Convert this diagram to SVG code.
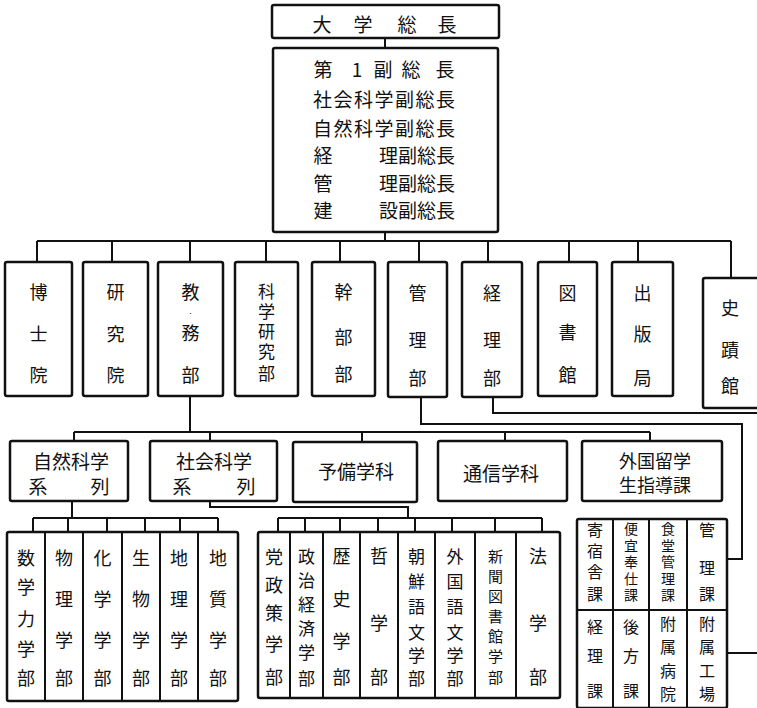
<svg xmlns="http://www.w3.org/2000/svg" width="757" height="708" viewBox="0 0 757 708">
<style>
.box{fill:#fff;stroke:#111;stroke-width:2.5}
.ln{fill:none;stroke:#111;stroke-width:2}
.div{fill:none;stroke:#111;stroke-width:2}
text{font-family:"Noto Sans CJK JP","Noto Sans CJK SC",sans-serif;fill:#111;text-anchor:middle;dominant-baseline:central}
.t18{font-size:18px}
.t19{font-size:19px}
.t17{font-size:17px}
.t16{font-size:16px}
.t15{font-size:15px}
.t14{font-size:14px}
</style>
<rect width="757" height="708" fill="#fff"/>
<g id="connectors">
<path class="ln" d="M385,38V48M385,232V241M37,241H731"/>
<path class="ln" d="M37,241V262M112,241V262M190,241V262M266,241V262M340,241V262M419,241V262M488,241V262M569,241V262M638,241V262M731,241V278"/>
<path class="ln" d="M190,396V432M74,432H650M74,432V441M210,432V441M362,432V442M505,432V441M650,432V441"/>
<path class="ln" d="M421,397V424H742V559H727"/>
<path class="ln" d="M493,397V413H757"/>
<path class="ln" d="M727,653H757"/>
<path class="ln" d="M72,501V518M33,518H218M33,518V532M68,518V532M107,518V532M145,518V532M180,518V532M218,518V532"/>
<path class="ln" d="M210,501V507H408V518M278,518H542M278,518V532M305,518V532M340,518V532M378,518V532M415,518V532M452,518V532M495,518V532M542,518V532"/>
</g>
<g id="president">
<rect class="box" x="272" y="5" width="227" height="33" rx="2"/>
<text class="t19" y="23"><tspan x="322">大</tspan><tspan x="363">学</tspan><tspan x="407">総</tspan><tspan x="447">長</tspan></text>
</g>
<g id="vice-presidents">
<rect class="box" x="273" y="48" width="225" height="184" rx="2"/>
<text class="t19" y="68"><tspan x="323">第</tspan><tspan x="357">1</tspan><tspan x="383">副</tspan><tspan x="411">総</tspan><tspan x="445">長</tspan></text>
<text class="t19" x="384" y="98" textLength="142" lengthAdjust="spacing">社会科学副総長</text>
<text class="t19" x="384" y="127" textLength="142" lengthAdjust="spacing">自然科学副総長</text>
<text class="t19" y="154"><tspan x="323">経</tspan><tspan x="417">理副総長</tspan></text>
<text class="t19" y="182"><tspan x="323">管</tspan><tspan x="417">理副総長</tspan></text>
<text class="t19" y="209"><tspan x="323">建</tspan><tspan x="417">設副総長</tspan></text>
</g>
<g id="hakushiin">
<rect class="box" x="5" y="262" width="67" height="134" rx="2"/>
<text class="t18"><tspan x="38.5" y="291">博</tspan><tspan x="38.5" y="333">士</tspan><tspan x="38.5" y="374">院</tspan></text>
</g>
<g id="kenkyuin">
<rect class="box" x="83" y="262" width="65" height="134" rx="2"/>
<text class="t18"><tspan x="115.5" y="291">研</tspan><tspan x="115.5" y="333">究</tspan><tspan x="115.5" y="374">院</tspan></text>
</g>
<g id="kyomubu">
<rect class="box" x="158" y="262" width="65" height="134" rx="2"/>
<text class="t18"><tspan x="190.5" y="291">教</tspan><tspan x="190.5" y="332">務</tspan><tspan x="190.5" y="374">部</tspan></text>
<text x="190.5" y="312" font-size="8">·</text>
</g>
<g id="kagakukenkyubu">
<rect class="box" x="235" y="262" width="63" height="134" rx="2"/>
<text class="t17"><tspan x="266.5" y="290">科</tspan><tspan x="266.5" y="310">学</tspan><tspan x="266.5" y="330">研</tspan><tspan x="266.5" y="350">究</tspan><tspan x="266.5" y="372">部</tspan></text>
</g>
<g id="kanbubu">
<rect class="box" x="312" y="262" width="63" height="134" rx="2"/>
<text class="t18"><tspan x="343.5" y="291">幹</tspan><tspan x="343.5" y="336">部</tspan><tspan x="343.5" y="373">部</tspan></text>
</g>
<g id="kanribu">
<rect class="box" x="388" y="262" width="59" height="135" rx="2"/>
<text class="t18"><tspan x="417.5" y="292">管</tspan><tspan x="417.5" y="339">理</tspan><tspan x="417.5" y="377">部</tspan></text>
</g>
<g id="keiribu">
<rect class="box" x="462" y="262" width="60" height="135" rx="2"/>
<text class="t18"><tspan x="492" y="292">経</tspan><tspan x="492" y="339">理</tspan><tspan x="492" y="377">部</tspan></text>
</g>
<g id="toshokan">
<rect class="box" x="538" y="262" width="59" height="134" rx="2"/>
<text class="t18"><tspan x="567.5" y="292">図</tspan><tspan x="567.5" y="331">書</tspan><tspan x="567.5" y="374">館</tspan></text>
</g>
<g id="shuppankyoku">
<rect class="box" x="612" y="262" width="61" height="134" rx="2"/>
<text class="t18"><tspan x="642.5" y="292">出</tspan><tspan x="642.5" y="333">版</tspan><tspan x="642.5" y="377">局</tspan></text>
</g>
<g id="shisekikan">
<rect class="box" x="703" y="278" width="70" height="130" rx="2"/>
<text class="t18"><tspan x="730" y="307">史</tspan><tspan x="730" y="349">蹟</tspan><tspan x="730" y="385">館</tspan></text>
</g>
<g id="shizen-keiretsu">
<rect class="box" x="10" y="441" width="118" height="60" rx="2"/>
<text class="t19" x="71" y="460">自然科学</text>
<text class="t19" y="485"><tspan x="38">系</tspan><tspan x="100">列</tspan></text>
</g>
<g id="shakai-keiretsu">
<rect class="box" x="150" y="441" width="127" height="60" rx="2"/>
<text class="t19" x="214" y="460">社会科学</text>
<text class="t19" y="485"><tspan x="182">系</tspan><tspan x="246">列</tspan></text>
</g>
<g id="yobigakka">
<rect class="box" x="293" y="442" width="124" height="60" rx="2"/>
<text class="t19" x="356" y="470">予備学科</text>
</g>
<g id="tsushingakka">
<rect class="box" x="438" y="441" width="129" height="60" rx="2"/>
<text class="t19" x="501" y="472">通信学科</text>
</g>
<g id="ryugakusei">
<rect class="box" x="582" y="441" width="140" height="60" rx="2"/>
<text class="t18" x="655" y="460">外国留学</text>
<text class="t18" x="655" y="484">生指導課</text>
</g>
<g id="shizen-gakubu">
<rect class="box" x="7" y="532" width="231" height="169" rx="2"/>
<path class="div" d="M45,532V701M83,532V701M122,532V701M160,532V701M198,532V701"/>
<text class="t18"><tspan x="26" y="557">数</tspan><tspan x="26" y="586">学</tspan><tspan x="26" y="618">力</tspan><tspan x="26" y="648">学</tspan><tspan x="26" y="677">部</tspan></text>
<text class="t18"><tspan x="64" y="557">物</tspan><tspan x="64" y="598">理</tspan><tspan x="64" y="639">学</tspan><tspan x="64" y="677">部</tspan></text>
<text class="t18"><tspan x="102.5" y="557">化</tspan><tspan x="102.5" y="598">学</tspan><tspan x="102.5" y="639">学</tspan><tspan x="102.5" y="677">部</tspan></text>
<text class="t18"><tspan x="141" y="557">生</tspan><tspan x="141" y="598">物</tspan><tspan x="141" y="639">学</tspan><tspan x="141" y="677">部</tspan></text>
<text class="t18"><tspan x="179" y="557">地</tspan><tspan x="179" y="598">理</tspan><tspan x="179" y="639">学</tspan><tspan x="179" y="677">部</tspan></text>
<text class="t18"><tspan x="218" y="557">地</tspan><tspan x="218" y="598">質</tspan><tspan x="218" y="639">学</tspan><tspan x="218" y="677">部</tspan></text>
</g>
<g id="shakai-gakubu">
<rect class="box" x="258" y="532" width="302" height="166" rx="2"/>
<path class="div" d="M290,532V698M323,532V698M360,532V698M398,532V698M435,532V698M475,532V698M516,532V698"/>
<text class="t18"><tspan x="274" y="556">党</tspan><tspan x="274" y="584">政</tspan><tspan x="274" y="612">策</tspan><tspan x="274" y="643">学</tspan><tspan x="274" y="676">部</tspan></text>
<text class="t17"><tspan x="306.5" y="555">政</tspan><tspan x="306.5" y="579">治</tspan><tspan x="306.5" y="603">経</tspan><tspan x="306.5" y="627">済</tspan><tspan x="306.5" y="651">学</tspan><tspan x="306.5" y="677">部</tspan></text>
<text class="t18"><tspan x="341.5" y="555">歴</tspan><tspan x="341.5" y="598">史</tspan><tspan x="341.5" y="640">学</tspan><tspan x="341.5" y="676">部</tspan></text>
<text class="t18"><tspan x="379" y="555">哲</tspan><tspan x="379" y="622">学</tspan><tspan x="379" y="676">部</tspan></text>
<text class="t17"><tspan x="416.5" y="555">朝</tspan><tspan x="416.5" y="580">鮮</tspan><tspan x="416.5" y="605">語</tspan><tspan x="416.5" y="631">文</tspan><tspan x="416.5" y="654">学</tspan><tspan x="416.5" y="677">部</tspan></text>
<text class="t17"><tspan x="455" y="555">外</tspan><tspan x="455" y="580">国</tspan><tspan x="455" y="605">語</tspan><tspan x="455" y="631">文</tspan><tspan x="455" y="654">学</tspan><tspan x="455" y="677">部</tspan></text>
<text class="t15"><tspan x="495.5" y="555">新</tspan><tspan x="495.5" y="575">聞</tspan><tspan x="495.5" y="595">図</tspan><tspan x="495.5" y="615">書</tspan><tspan x="495.5" y="635">館</tspan><tspan x="495.5" y="655">学</tspan><tspan x="495.5" y="676">部</tspan></text>
<text class="t18"><tspan x="538" y="555">法</tspan><tspan x="538" y="622">学</tspan><tspan x="538" y="676">部</tspan></text>
</g>
<g id="kanri-ka">
<rect class="box" x="577" y="519" width="150" height="189" rx="2"/>
<path class="div" d="M577,610H727M613,519V708M649,519V708M687,519V708"/>
<text class="t16"><tspan x="595" y="529">寄</tspan><tspan x="595" y="550">宿</tspan><tspan x="595" y="571">舎</tspan><tspan x="595" y="593">課</tspan></text>
<text class="t14"><tspan x="631" y="528">便</tspan><tspan x="631" y="544.5">宜</tspan><tspan x="631" y="561">奉</tspan><tspan x="631" y="577.5">仕</tspan><tspan x="631" y="594">課</tspan></text>
<text class="t14"><tspan x="668" y="528">食</tspan><tspan x="668" y="544.5">堂</tspan><tspan x="668" y="561">管</tspan><tspan x="668" y="577.5">理</tspan><tspan x="668" y="594">課</tspan></text>
<text class="t16"><tspan x="707" y="529">管</tspan><tspan x="707" y="567">理</tspan><tspan x="707" y="593">課</tspan></text>
<text class="t16"><tspan x="595" y="626">経</tspan><tspan x="595" y="655">理</tspan><tspan x="595" y="690">課</tspan></text>
<text class="t16"><tspan x="631" y="626">後</tspan><tspan x="631" y="655">方</tspan><tspan x="631" y="690">課</tspan></text>
<text class="t16"><tspan x="668" y="623">附</tspan><tspan x="668" y="646">属</tspan><tspan x="668" y="670">病</tspan><tspan x="668" y="693">院</tspan></text>
<text class="t16"><tspan x="707" y="623">附</tspan><tspan x="707" y="646">属</tspan><tspan x="707" y="670">工</tspan><tspan x="707" y="693">場</tspan></text>
</g>
</svg>
